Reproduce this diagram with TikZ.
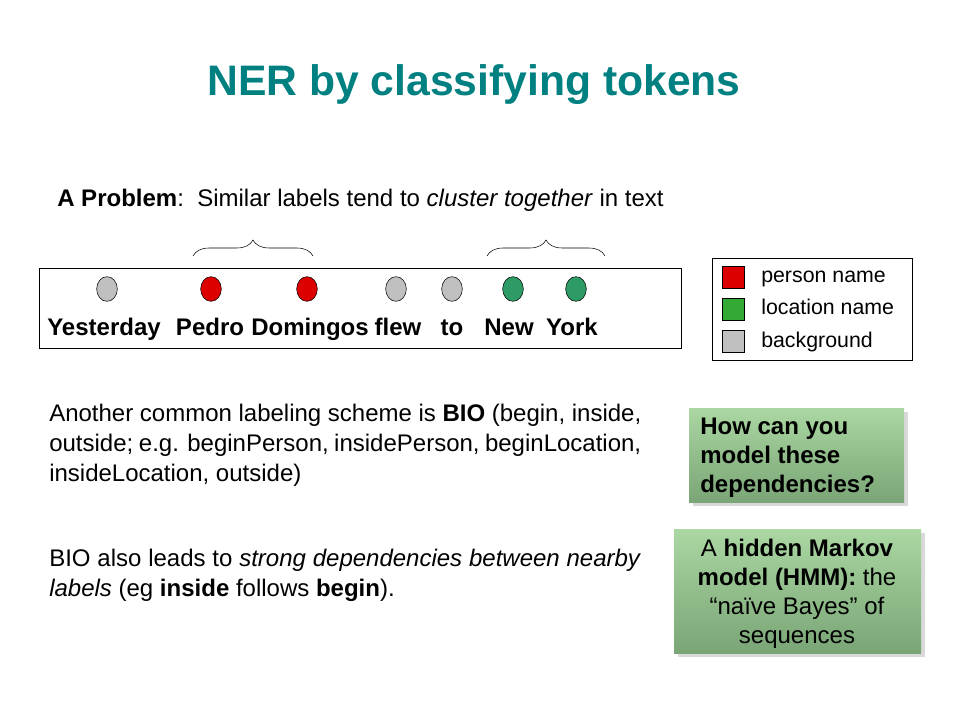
\documentclass[tikz,border=0pt]{standalone}
\usepackage{fontspec}
\setmainfont{Liberation Sans}
\usepackage{tikz}
\usetikzlibrary{positioning,shapes,decorations.pathreplacing,shadows}

\definecolor{titleteal}{RGB}{0,128,128}
\definecolor{pername}{RGB}{220,0,0}
\definecolor{locname}{RGB}{46,155,102}
\definecolor{legloc}{RGB}{51,170,51}
\definecolor{bgname}{RGB}{192,192,192}
\definecolor{boxtop}{RGB}{170,215,162}
\definecolor{boxbot}{RGB}{122,165,118}

\begin{document}
\begin{tikzpicture}[
  x=0.75pt,y=-0.75pt,
  tokdot/.style={draw,ellipse,minimum width=15.5pt,minimum height=18.5pt,inner sep=0pt},
  word/.style={anchor=base,font=\fontsize{18}{21}\selectfont\bfseries,inner sep=0pt},
  legsq/.style={draw,minimum size=16.5pt,inner sep=0pt},
  legtext/.style={anchor=base west,font=\fontsize{16}{19}\selectfont,inner sep=0pt},
  bodytext/.style={anchor=north west,text width=444pt,align=justify,inner sep=0pt,
    font=\fontsize{18}{22.5}\selectfont},
  qbox/.style={top color=boxtop,bottom color=boxbot,drop shadow={opacity=0.3},
    font=\fontsize{18}{21.8}\selectfont}
]
\useasboundingbox (0,0) rectangle (960,720);
\node[font=\fontsize{32}{38}\selectfont\bfseries,text=titleteal] (title) at (474,85) {NER by classifying tokens};
\node[anchor=west,inner sep=0pt,font=\fontsize{18}{21}\selectfont] (prob) at (57,200)
  {\textbf{A Problem}:\ \ Similar labels tend to \textit{cluster together} in text};

% tokens
\draw (39,268) rectangle (681,348);
\node[tokdot,fill=bgname] (c1) at (107,289) {};
\node[tokdot,fill=pername] (c2) at (211,289) {};
\node[tokdot,fill=pername] (c3) at (307,289) {};
\node[tokdot,fill=bgname] (c4) at (396,289) {};
\node[tokdot,fill=bgname] (c5) at (452,289) {};
\node[tokdot,fill=locname] (c6) at (513,289) {};
\node[tokdot,fill=locname] (c7) at (576,289) {};
\node[word] (w1) at (104,335) {Yesterday};
\node[word] (w2) at (210,335) {Pedro};
\node[word] (w3) at (310,335) {Domingos};
\node[word] (w4) at (398,335) {flew};
\node[word] (w5) at (452,335) {to};
\node[word] (w6) at (509,335) {New};
\node[word] (w7) at (572,335) {York};
\coordinate (b1l) at (193,256);
\coordinate (b1r) at (313,256);
\coordinate (b2l) at (487,256);
\coordinate (b2r) at (605,256);
\draw[decorate,decoration={brace,amplitude=12pt}] (b1l) -- (b1r);
\draw[decorate,decoration={brace,amplitude=12pt}] (b2l) -- (b2r);

% legend
\draw (712,258) rectangle (912,360);
\node[legsq,fill=pername] (lp) at (733,277) {};
\node[legsq,fill=legloc] (ll) at (733,309) {};
\node[legsq,fill=bgname] (lb) at (733,341) {};
\node[legtext] (tp) at (761,283) {person name};
\node[legtext] (tl) at (761,315) {location name};
\node[legtext] (tb) at (761,347) {background};

% text
\node[bodytext] (bio) at (49,404)
  {Another common labeling scheme is \textbf{BIO} (begin, inside,\linebreak
   outside; e.g. beginPerson, insidePerson, beginLocation,\linebreak
   insideLocation, outside)};
\node[bodytext] (dep) at (49,549)
  {BIO also leads to \textit{strong dependencies between nearby}\linebreak
   \textit{labels} (eg \textbf{inside} follows \textbf{begin}).};

% green boxes
\shade[qbox] (689,408) rectangle (904,502);
\node[anchor=north west,inner sep=0pt,align=left,font=\fontsize{18}{21.8}\selectfont\bfseries] (how) at (700,418)
  {How can you\\model these\\dependencies?};
\shade[qbox] (674,529) rectangle (921,653);
\node[inner sep=0pt,align=center,font=\fontsize{18}{21.8}\selectfont] (hmm) at (797,594)
  {A \textbf{hidden Markov}\\\textbf{model (HMM):} the\\“naïve Bayes” of\\sequences};
\end{tikzpicture}
\end{document}
